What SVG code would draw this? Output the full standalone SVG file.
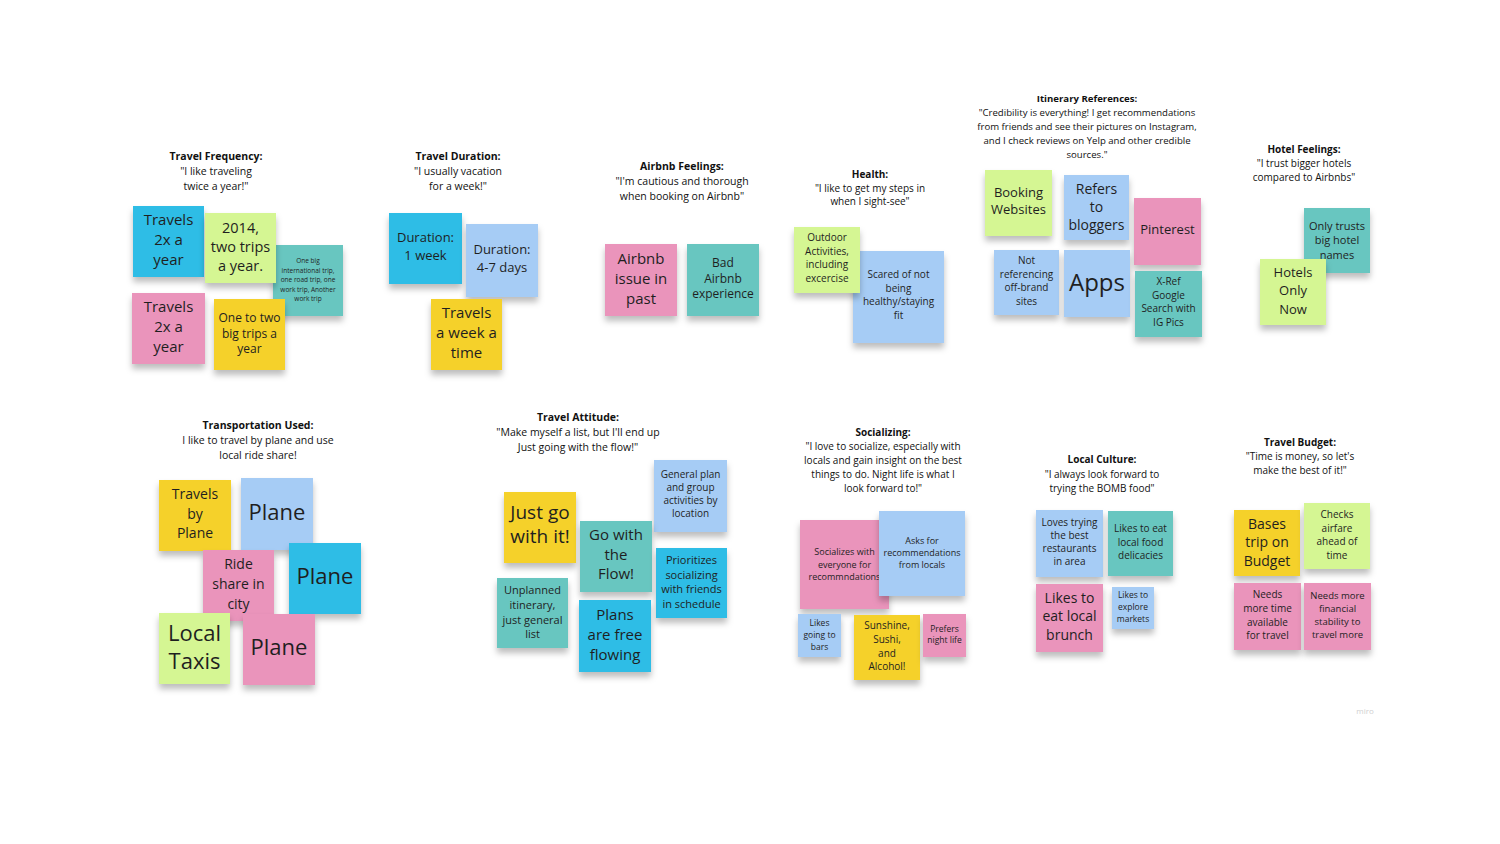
<svg xmlns="http://www.w3.org/2000/svg" width="1500" height="844" viewBox="0 0 1500 844">
<defs>
<filter id="sh" x="-20%" y="-20%" width="140%" height="150%">
<feDropShadow dx="0" dy="5" stdDeviation="3" flood-color="#000" flood-opacity="0.26"/>
</filter>
</defs>
<style>
text{font-family:"Open Sans","Noto Sans","Liberation Sans",sans-serif;fill:#1f1f1f;text-anchor:middle;dominant-baseline:central}
.t{font-size:10.5px;fill:#111}
.b{font-weight:bold}
rect{filter:url(#sh)}
.cy{fill:#2EBDE6}
.gr{fill:#D5F693}
.te{fill:#67C6C0}
.pk{fill:#EA94BB}
.ye{fill:#F5D12B}
.lb{fill:#A6CCF5}
.wm{font-size:8px;fill:#d0d0d0}
</style>
<rect width="1500" height="844" fill="#fff" style="filter:none"/>

<g id="connectors"></g>

<!-- Titles -->
<g id="title-frequency"><text class="t"><tspan class="b" x="216" y="156">Travel Frequency:</tspan><tspan x="216" y="171">"I like traveling</tspan><tspan x="216" y="186">twice a year!"</tspan></text></g>
<g id="title-duration"><text class="t"><tspan class="b" x="458" y="156">Travel Duration:</tspan><tspan x="458" y="171">"I usually vacation</tspan><tspan x="458" y="186">for a week!"</tspan></text></g>
<g id="title-airbnb"><text class="t"><tspan class="b" x="682" y="166">Airbnb Feelings:</tspan><tspan x="682" y="181">"I'm cautious and thorough</tspan><tspan x="682" y="196">when booking on Airbnb"</tspan></text></g>
<g id="title-health"><text class="t" style="font-size:10px"><tspan class="b" x="870" y="174">Health:</tspan><tspan x="870" y="188">"I like to get my steps in</tspan><tspan x="870" y="201">when I sight-see"</tspan></text></g>
<g id="title-itinerary"><text class="t" style="font-size:9.6px"><tspan class="b" x="1087" y="98">Itinerary References:</tspan><tspan x="1087" y="112">"Credibility is everything! I get recommendations</tspan><tspan x="1087" y="126">from friends and see their pictures on Instagram,</tspan><tspan x="1087" y="140">and I check reviews on Yelp and other credible</tspan><tspan x="1087" y="154">sources."</tspan></text></g>
<g id="title-hotel"><text class="t" style="font-size:10px"><tspan class="b" x="1304" y="149">Hotel Feelings:</tspan><tspan x="1304" y="163">"I trust bigger hotels</tspan><tspan x="1304" y="177">compared to Airbnbs"</tspan></text></g>
<g id="title-transport"><text class="t"><tspan class="b" x="258" y="425">Transportation Used:</tspan><tspan x="258" y="440">I like to travel by plane and use</tspan><tspan x="258" y="455">local ride share!</tspan></text></g>
<g id="title-attitude"><text class="t"><tspan class="b" x="578" y="417">Travel Attitude:</tspan><tspan x="578" y="432">"Make myself a list, but I'll end up</tspan><tspan x="578" y="447">Just going with the flow!"</tspan></text></g>
<g id="title-socializing"><text class="t" style="font-size:10px"><tspan class="b" x="883" y="432">Socializing:</tspan><tspan x="883" y="446">"I love to socialize, especially with</tspan><tspan x="883" y="460">locals and gain insight on the best</tspan><tspan x="883" y="474">things to do. Night life is what I</tspan><tspan x="883" y="488">look forward to!"</tspan></text></g>
<g id="title-culture"><text class="t" style="font-size:10px"><tspan class="b" x="1102" y="459">Local Culture:</tspan><tspan x="1102" y="474">"I always look forward to</tspan><tspan x="1102" y="488">trying the BOMB food"</tspan></text></g>
<g id="title-budget"><text class="t" style="font-size:10px"><tspan class="b" x="1300" y="442">Travel Budget:</tspan><tspan x="1300" y="456">"Time is money, so let's</tspan><tspan x="1300" y="470">make the best of it!"</tspan></text></g>

<!-- Travel Frequency -->
<g id="freq-1"><rect class="cy" x="133" y="206" width="71" height="71"/><text style="font-size:15px"><tspan x="168.5" y="219">Travels</tspan><tspan x="168.5" y="239">2x a</tspan><tspan x="168.5" y="259">year</tspan></text></g>
<g id="freq-3"><rect class="te" x="273" y="245" width="70" height="71"/><text style="font-size:6.5px"><tspan x="308" y="260">One big</tspan><tspan x="308" y="270">international trip,</tspan><tspan x="308" y="279">one road trip, one</tspan><tspan x="308" y="289">work trip, Another</tspan><tspan x="308" y="298">work trip</tspan></text></g>
<g id="freq-2"><rect class="gr" x="205" y="213" width="71" height="70"/><text style="font-size:14.5px"><tspan x="240.5" y="227">2014,</tspan><tspan x="240.5" y="246">two trips</tspan><tspan x="240.5" y="265">a year.</tspan></text></g>
<g id="freq-4"><rect class="pk" x="132" y="293" width="73" height="71"/><text style="font-size:15px"><tspan x="168.5" y="306">Travels</tspan><tspan x="168.5" y="326">2x a</tspan><tspan x="168.5" y="346">year</tspan></text></g>
<g id="freq-5"><rect class="ye" x="214" y="299" width="71" height="71"/><text style="font-size:12px"><tspan x="249.5" y="317">One to two</tspan><tspan x="249.5" y="333">big trips a</tspan><tspan x="249.5" y="348">year</tspan></text></g>

<!-- Travel Duration -->
<g id="dur-1"><rect class="cy" x="389" y="213" width="73" height="71"/><text style="font-size:13px"><tspan x="425.5" y="237">Duration:</tspan><tspan x="425.5" y="255">1 week</tspan></text></g>
<g id="dur-2"><rect class="lb" x="466" y="224" width="72" height="73"/><text style="font-size:13px"><tspan x="502" y="249">Duration:</tspan><tspan x="502" y="267">4-7 days</tspan></text></g>
<g id="dur-3"><rect class="ye" x="431" y="299" width="71" height="71"/><text style="font-size:15px"><tspan x="466.5" y="312">Travels</tspan><tspan x="466.5" y="332">a week a</tspan><tspan x="466.5" y="352">time</tspan></text></g>

<!-- Airbnb -->
<g id="airbnb-1"><rect class="pk" x="605" y="244" width="72" height="72"/><text style="font-size:15px"><tspan x="641" y="258">Airbnb</tspan><tspan x="641" y="278">issue in</tspan><tspan x="641" y="298">past</tspan></text></g>
<g id="airbnb-2"><rect class="te" x="687" y="244" width="72" height="72"/><text style="font-size:12px"><tspan x="723" y="262">Bad</tspan><tspan x="723" y="278">Airbnb</tspan><tspan x="723" y="293">experience</tspan></text></g>

<!-- Health -->
<g id="health-2"><rect class="lb" x="853" y="251" width="91" height="92"/><text style="font-size:10px"><tspan x="898.5" y="274">Scared of not</tspan><tspan x="898.5" y="288">being</tspan><tspan x="898.5" y="301">healthy/staying</tspan><tspan x="898.5" y="315">fit</tspan></text></g>
<g id="health-1"><rect class="gr" x="794" y="227" width="66" height="66"/><text style="font-size:10px"><tspan x="827" y="237">Outdoor</tspan><tspan x="827" y="251">Activities,</tspan><tspan x="827" y="264">including</tspan><tspan x="827" y="278">excercise</tspan></text></g>

<!-- Itinerary -->
<g id="itin-1"><rect class="gr" x="985" y="170" width="67" height="66"/><text style="font-size:13px"><tspan x="1018.5" y="192">Booking</tspan><tspan x="1018.5" y="209">Websites</tspan></text></g>
<g id="itin-2"><rect class="lb" x="1064" y="175" width="65" height="65"/><text style="font-size:14px"><tspan x="1096.5" y="188">Refers</tspan><tspan x="1096.5" y="206">to</tspan><tspan x="1096.5" y="224">bloggers</tspan></text></g>
<g id="itin-3"><rect class="pk" x="1134" y="198" width="67" height="67"/><text style="font-size:13px"><tspan x="1167.5" y="229">Pinterest</tspan></text></g>
<g id="itin-4"><rect class="lb" x="994" y="250" width="65" height="65"/><text style="font-size:10px"><tspan x="1026.5" y="260">Not</tspan><tspan x="1026.5" y="274">referencing</tspan><tspan x="1026.5" y="287">off-brand</tspan><tspan x="1026.5" y="301">sites</tspan></text></g>
<g id="itin-5"><rect class="lb" x="1064" y="250" width="66" height="67"/><text style="font-size:24px"><tspan x="1097" y="281">Apps</tspan></text></g>
<g id="itin-6"><rect class="te" x="1135" y="271" width="67" height="66"/><text style="font-size:10px"><tspan x="1168.5" y="281">X-Ref</tspan><tspan x="1168.5" y="295">Google</tspan><tspan x="1168.5" y="308">Search with</tspan><tspan x="1168.5" y="322">IG Pics</tspan></text></g>

<!-- Hotel -->
<g id="hotel-1"><rect class="te" x="1304" y="208" width="66" height="65"/><text style="font-size:11px"><tspan x="1337" y="225">Only trusts</tspan><tspan x="1337" y="239">big hotel</tspan><tspan x="1337" y="254">names</tspan></text></g>
<g id="hotel-2"><rect class="gr" x="1260" y="259" width="66" height="66"/><text style="font-size:13px"><tspan x="1293" y="272">Hotels</tspan><tspan x="1293" y="290">Only</tspan><tspan x="1293" y="309">Now</tspan></text></g>

<!-- Transportation -->
<g id="trans-1"><rect class="ye" x="159" y="480" width="72" height="71"/><text style="font-size:14px"><tspan x="195" y="493">Travels</tspan><tspan x="195" y="513">by</tspan><tspan x="195" y="532">Plane</tspan></text></g>
<g id="trans-2"><rect class="lb" x="241" y="478" width="72" height="72"/><text style="font-size:22px"><tspan x="277" y="511">Plane</tspan></text></g>
<g id="trans-3"><rect class="pk" x="203" y="550" width="71" height="71"/><text style="font-size:14px"><tspan x="238.5" y="563">Ride</tspan><tspan x="238.5" y="583">share in</tspan><tspan x="238.5" y="603">city</tspan></text></g>
<g id="trans-4"><rect class="cy" x="289" y="543" width="72" height="71"/><text style="font-size:22px"><tspan x="325" y="575">Plane</tspan></text></g>
<g id="trans-5"><rect class="gr" x="159" y="613" width="71" height="71"/><text style="font-size:22px"><tspan x="194.5" y="632">Local</tspan><tspan x="194.5" y="660">Taxis</tspan></text></g>
<g id="trans-6"><rect class="pk" x="243" y="614" width="72" height="71"/><text style="font-size:22px"><tspan x="279" y="646">Plane</tspan></text></g>

<!-- Travel Attitude -->
<g id="att-1"><rect class="lb" x="654" y="460" width="73" height="72"/><text style="font-size:10px"><tspan x="690.5" y="474">General plan</tspan><tspan x="690.5" y="487">and group</tspan><tspan x="690.5" y="500">activities by</tspan><tspan x="690.5" y="513">location</tspan></text></g>
<g id="att-2"><rect class="ye" x="504" y="492" width="72" height="71"/><text style="font-size:19px"><tspan x="540" y="512">Just go</tspan><tspan x="540" y="536">with it!</tspan></text></g>
<g id="att-3"><rect class="te" x="580" y="521" width="72" height="71"/><text style="font-size:15px"><tspan x="616" y="534">Go with</tspan><tspan x="616" y="554">the</tspan><tspan x="616" y="573">Flow!</tspan></text></g>
<g id="att-4"><rect class="cy" x="656" y="548" width="71" height="70"/><text style="font-size:11px"><tspan x="691.5" y="559">Prioritizes</tspan><tspan x="691.5" y="574">socializing</tspan><tspan x="691.5" y="588">with friends</tspan><tspan x="691.5" y="603">in schedule</tspan></text></g>
<g id="att-5"><rect class="te" x="497" y="578" width="71" height="70"/><text style="font-size:11px"><tspan x="532.5" y="589">Unplanned</tspan><tspan x="532.5" y="604">itinerary,</tspan><tspan x="532.5" y="619">just general</tspan><tspan x="532.5" y="633">list</tspan></text></g>
<g id="att-6"><rect class="cy" x="579" y="600" width="72" height="72"/><text style="font-size:15px"><tspan x="615" y="614">Plans</tspan><tspan x="615" y="634">are free</tspan><tspan x="615" y="654">flowing</tspan></text></g>

<!-- Socializing -->
<g id="soc-1"><rect class="pk" x="800" y="520" width="89" height="89"/><text style="font-size:9px"><tspan x="844.5" y="551">Socializes with</tspan><tspan x="844.5" y="564">everyone for</tspan><tspan x="844.5" y="576">recommndations</tspan></text></g>
<g id="soc-2"><rect class="lb" x="879" y="511" width="86" height="85"/><text style="font-size:9px"><tspan x="922" y="540">Asks for</tspan><tspan x="922" y="552">recommendations</tspan><tspan x="922" y="564">from locals</tspan></text></g>
<g id="soc-3"><rect class="lb" x="798" y="614" width="43" height="43"/><text style="font-size:8.5px"><tspan x="819.5" y="622">Likes</tspan><tspan x="819.5" y="634">going to</tspan><tspan x="819.5" y="646">bars</tspan></text></g>
<g id="soc-4"><rect class="ye" x="854" y="615" width="66" height="65"/><text style="font-size:10px"><tspan x="887" y="625">Sunshine,</tspan><tspan x="887" y="639">Sushi,</tspan><tspan x="887" y="653">and</tspan><tspan x="887" y="666">Alcohol!</tspan></text></g>
<g id="soc-5"><rect class="pk" x="923" y="614" width="43" height="43"/><text style="font-size:8.5px"><tspan x="944.5" y="628">Prefers</tspan><tspan x="944.5" y="639">night life</tspan></text></g>

<!-- Local Culture -->
<g id="cult-1"><rect class="lb" x="1036" y="510" width="67" height="67"/><text style="font-size:10px"><tspan x="1069.5" y="522">Loves trying</tspan><tspan x="1069.5" y="535">the best</tspan><tspan x="1069.5" y="548">restaurants</tspan><tspan x="1069.5" y="561">in area</tspan></text></g>
<g id="cult-2"><rect class="te" x="1108" y="511" width="65" height="65"/><text style="font-size:10px"><tspan x="1140.5" y="528">Likes to eat</tspan><tspan x="1140.5" y="542">local food</tspan><tspan x="1140.5" y="555">delicacies</tspan></text></g>
<g id="cult-3"><rect class="pk" x="1036" y="584" width="67" height="68"/><text style="font-size:14px"><tspan x="1069.5" y="597">Likes to</tspan><tspan x="1069.5" y="615">eat local</tspan><tspan x="1069.5" y="634">brunch</tspan></text></g>
<g id="cult-4"><rect class="lb" x="1112" y="587" width="42" height="42"/><text style="font-size:8.5px"><tspan x="1133" y="594">Likes to</tspan><tspan x="1133" y="606">explore</tspan><tspan x="1133" y="618">markets</tspan></text></g>

<!-- Travel Budget -->
<g id="bud-1"><rect class="ye" x="1234" y="510" width="66" height="66"/><text style="font-size:14px"><tspan x="1267" y="523">Bases</tspan><tspan x="1267" y="541">trip on</tspan><tspan x="1267" y="560">Budget</tspan></text></g>
<g id="bud-2"><rect class="gr" x="1304" y="503" width="66" height="66"/><text style="font-size:10px"><tspan x="1337" y="514">Checks</tspan><tspan x="1337" y="528">airfare</tspan><tspan x="1337" y="541">ahead of</tspan><tspan x="1337" y="555">time</tspan></text></g>
<g id="bud-3"><rect class="pk" x="1234" y="583" width="67" height="67"/><text style="font-size:10px"><tspan x="1267.5" y="594">Needs</tspan><tspan x="1267.5" y="608">more time</tspan><tspan x="1267.5" y="622">available</tspan><tspan x="1267.5" y="635">for travel</tspan></text></g>
<g id="bud-4"><rect class="pk" x="1304" y="583" width="67" height="67"/><text style="font-size:9.5px"><tspan x="1337.5" y="595">Needs more</tspan><tspan x="1337.5" y="608">financial</tspan><tspan x="1337.5" y="621">stability to</tspan><tspan x="1337.5" y="634">travel more</tspan></text></g>

<g id="watermark"><text class="wm" x="1365" y="710">miro</text></g>
</svg>
